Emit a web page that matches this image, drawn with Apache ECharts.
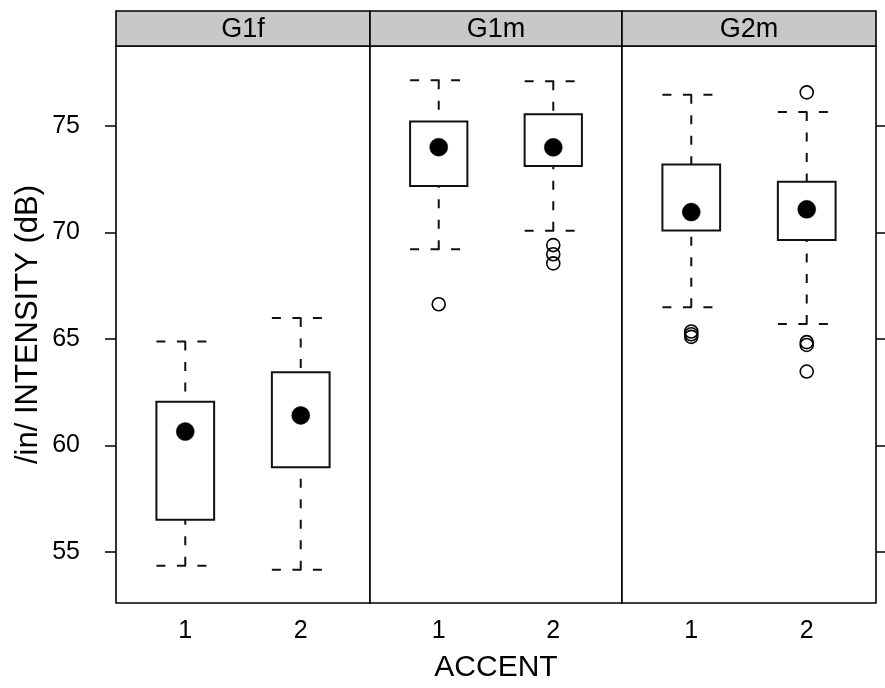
<!DOCTYPE html>
<html>
<head>
<meta charset="utf-8">
<script src="https://cdn.jsdelivr.net/npm/echarts@6/dist/echarts.min.js"></script>
<style>
  html, body { margin: 0; padding: 0; background: #fff; }
  #chart { width: 885px; height: 688px; }
</style>
</head>
<body>
<div id="chart"></div>
<script>
// Panels (speaker groups) and accent levels on the x axis
const groups = ['G1f', 'G1m', 'G2m'];
const accents = [1, 2];
const yTicks = [55, 60, 65, 70, 75];

// Box statistics per accent level: [lower whisker, Q1, median, Q3, upper whisker]
const statsG1f = [[54.35, 56.51, 60.65, 62.05, 64.88], [54.16, 58.98, 61.41, 63.44, 65.99]];
const statsG1m = [[69.22, 72.19, 74.01, 75.21, 77.15], [70.08, 73.12, 74.00, 75.56, 77.11]];
const statsG2m = [[66.49, 70.09, 70.96, 73.20, 76.47], [65.70, 69.65, 71.09, 72.39, 75.66]];

// Outlying observations per accent level
const outliersG1f = [[], []];
const outliersG1m = [[66.63], [69.41, 68.98, 68.55]];
const outliersG2m = [[65.35, 65.22, 65.10], [76.58, 64.85, 64.72, 63.47]];

const allStats = [statsG1f, statsG1m, statsG2m];
const allOutliers = [outliersG1f, outliersG1m, outliersG2m];

// Layout
const FONT = '"Liberation Sans", Arial, Helvetica, sans-serif';
const panelLeft = [116, 370, 622];
const panelWidth = [254, 252, 254];
const panelTop = 46, panelHeight = 557;
const stripTop = 11, stripHeight = panelTop - stripTop;
const yMin = 52.6, yMax = 78.76;
const BOX_HALF = 0.25;
const DASH = [9, 11.5];

function renderBox(params, api) {
  const x = api.value(0);
  const lw = api.value(1), q1 = api.value(2), med = api.value(3), q3 = api.value(4), uw = api.value(5);
  const c = (xx, yy) => api.coord([xx, yy]);
  const lineStyle = { stroke: '#111', lineWidth: 2, lineDash: DASH, fill: null };
  const seg = (a, b, style) => ({
    type: 'line',
    shape: { x1: a[0], y1: a[1], x2: b[0], y2: b[1] },
    style: style
  });
  const tl = c(x - BOX_HALF, q3), br = c(x + BOX_HALF, q1);
  const m = c(x, med);
  return {
    type: 'group',
    children: [
      // whiskers run from the whisker end towards the box
      seg(c(x, uw), c(x, q3), lineStyle),
      seg(c(x, lw), c(x, q1), lineStyle),
      // whisker caps
      seg(c(x - BOX_HALF, uw), c(x + BOX_HALF, uw), lineStyle),
      seg(c(x - BOX_HALF, lw), c(x + BOX_HALF, lw), lineStyle),
      // box
      {
        type: 'rect',
        shape: { x: tl[0], y: tl[1], width: br[0] - tl[0], height: br[1] - tl[1] },
        style: { fill: '#fff', stroke: '#111', lineWidth: 2 }
      },
      // median dot
      {
        type: 'circle',
        shape: { cx: m[0], cy: m[1], r: 9 },
        style: { fill: '#000', stroke: '#000', lineWidth: 0.5 }
      }
    ]
  };
}

const grids = [], xAxes = [], yAxes = [], series = [], graphics = [];

groups.forEach((g, i) => {
  grids.push({
    left: panelLeft[i], top: panelTop, width: panelWidth[i], height: panelHeight,
    show: true, borderColor: '#000', borderWidth: 1.6, backgroundColor: '#fff'
  });
  xAxes.push({
    gridIndex: i, type: 'value', min: 0.4, max: 2.6,
    splitLine: { show: false },
    axisLine: { show: false },
    axisTick: { show: false },
    axisLabel: {
      customValues: accents, color: '#000', fontSize: 25, fontFamily: FONT, margin: 16
    },
    name: i === 1 ? 'ACCENT' : '',
    nameLocation: 'middle', nameGap: 50,
    nameTextStyle: { color: '#000', fontSize: 30, fontFamily: FONT }
  });
  const y = {
    gridIndex: i, type: 'value', min: yMin, max: yMax,
    splitLine: { show: false },
    axisLine: { show: false },
    axisTick: { show: false },
    axisLabel: { show: false }
  };
  if (i === 0) {
    y.position = 'left';
    y.axisTick = { show: true, inside: false, length: 11, customValues: yTicks, lineStyle: { color: '#000', width: 1.5 } };
    y.axisLabel = { show: true, customValues: yTicks, color: '#000', fontSize: 25, fontFamily: FONT, margin: 36 };
    y.name = '/in/ INTENSITY (dB)';
    y.nameLocation = 'middle';
    y.nameRotate = 90;
    y.nameGap = 72;
    y.nameTextStyle = { color: '#000', fontSize: 31, fontFamily: FONT };
  } else if (i === 2) {
    y.position = 'right';
    y.axisTick = { show: true, inside: false, length: 11, customValues: yTicks, lineStyle: { color: '#000', width: 1.5 } };
  }
  yAxes.push(y);

  series.push({
    type: 'custom',
    xAxisIndex: i, yAxisIndex: i,
    renderItem: renderBox,
    encode: { x: 0, y: [1, 2, 3, 4, 5] },
    data: allStats[i].map((s, k) => [accents[k]].concat(s)),
    z: 2
  });
  const pts = [];
  allOutliers[i].forEach((vals, k) => vals.forEach(v => pts.push([accents[k], v])));
  series.push({
    type: 'scatter',
    xAxisIndex: i, yAxisIndex: i,
    symbol: 'circle', symbolSize: 13,
    itemStyle: { color: 'rgba(255,255,255,0)', borderColor: '#000', borderWidth: 1.6, opacity: 1 },
    data: pts,
    z: 3
  });

  // strip with the panel name
  graphics.push({
    type: 'rect',
    shape: { x: panelLeft[i], y: stripTop, width: panelWidth[i], height: stripHeight },
    style: { fill: '#c8c8c8', stroke: '#000', lineWidth: 1.6 },
    z: 10
  });
  graphics.push({
    type: 'text',
    x: panelLeft[i] + panelWidth[i] / 2, y: stripTop + stripHeight / 2 + 1,
    style: { text: g, fill: '#000', fontSize: 27, fontFamily: FONT, align: 'center', verticalAlign: 'middle' },
    z: 11
  });
});

const chart = echarts.init(document.getElementById('chart'), null, { renderer: 'canvas' });
chart.setOption({
  animation: false,
  backgroundColor: '#fff',
  grid: grids,
  xAxis: xAxes,
  yAxis: yAxes,
  series: series,
  graphic: graphics
});
</script>
</body>
</html>
